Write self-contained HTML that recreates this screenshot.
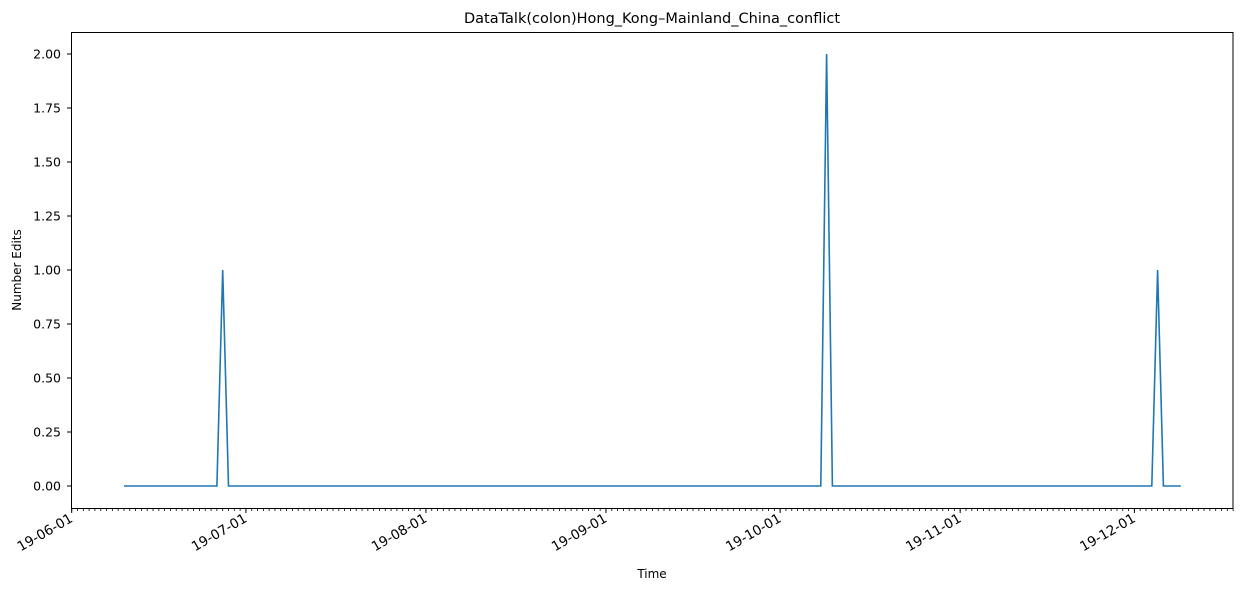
<!DOCTYPE html>
<html><head><meta charset="utf-8"><style>
body{margin:0;background:#fff;}
svg{display:block;font-family:"DejaVu Sans","Liberation Sans",sans-serif;}
</style></head><body>
<svg id="chart" width="1243" height="591" xmlns="http://www.w3.org/2000/svg">
<text x="652" y="23" text-anchor="middle" font-size="14.5">DataTalk(colon)Hong_Kong–Mainland_China_conflict</text>
<text transform="translate(21,270) rotate(-90)" text-anchor="middle" font-size="12">Number Edits</text>
<text x="652" y="578" text-anchor="middle" font-size="12">Time</text>
<g id="yticks"></g><g id="xticks"></g>
<polyline id="line" fill="none" stroke="#1f77b4" stroke-width="1.6"/>
<rect x="71.5" y="32.5" width="1161.5" height="476" fill="none" stroke="#000" stroke-width="1"/>
</svg>
<script>
const startDate = "2019-06-10";
const spikeDates = ["2019-06-27","2019-10-09","2019-12-05"];
const spikeValues = [1,2,1];
const endDate = "2019-12-09";
const yTicks = [0,0.25,0.5,0.75,1.0,1.25,1.5,1.75,2.0];
const monthTicks = ["2019-06-01","2019-07-01","2019-08-01","2019-09-01","2019-10-01","2019-11-01","2019-12-01"];
const monthLabels = ["19-06-01","19-07-01","19-08-01","19-09-01","19-10-01","19-11-01","19-12-01"];

const NS="http://www.w3.org/2000/svg";
const D0=Date.UTC(2019,5,1), DAY=86400000;
const dayOf=s=>{const[a,b,c]=s.split('-').map(Number);return (Date.UTC(a,b-1,c)-D0)/DAY;};
const X=d=>71.7+d*5.807;
const Y=v=>486-v*216;
const svg=document.getElementById('chart');
function mk(t,a,p){const e=document.createElementNS(NS,t);for(const k in a)e.setAttribute(k,a[k]);(p||svg).appendChild(e);return e;}
const yg=document.getElementById('yticks');
yTicks.forEach(v=>{
  const l=mk('line',{x1:67,x2:71.5,y1:Y(v),y2:Y(v),stroke:'#000'},yg);
  
  
  const t=mk('text',{x:61,y:Y(v)+4.5,'text-anchor':'end','font-size':'12.5'},yg);
  
  
  t.textContent=v.toFixed(2);
});
const xg=document.getElementById('xticks');
for(let d=0;d<=200;d++){
  const l=mk('line',{x1:X(d),x2:X(d),y1:508.5,y2:511,stroke:'#000','stroke-width':0.8},xg);
  
  
}
monthTicks.forEach((m,i)=>{
  const x=X(dayOf(m));
  const l=mk('line',{x1:x,x2:x,y1:508.5,y2:513,stroke:'#000'},xg);
  
  
  const t=mk('text',{transform:`translate(${x+2},${521}) rotate(-30)`,'text-anchor':'end','font-size':'13.5'},xg);
  
  
  t.textContent=monthLabels[i];
});
const pts=[];
for(let d=dayOf(startDate);d<=dayOf(endDate);d++){
  let v=0;spikeDates.forEach((s,i)=>{if(dayOf(s)===d)v=spikeValues[i];});
  pts.push(X(d).toFixed(1)+','+Y(v).toFixed(1));
}
document.getElementById('line').setAttribute('points',pts.join(' '));
</script>
</body></html>
